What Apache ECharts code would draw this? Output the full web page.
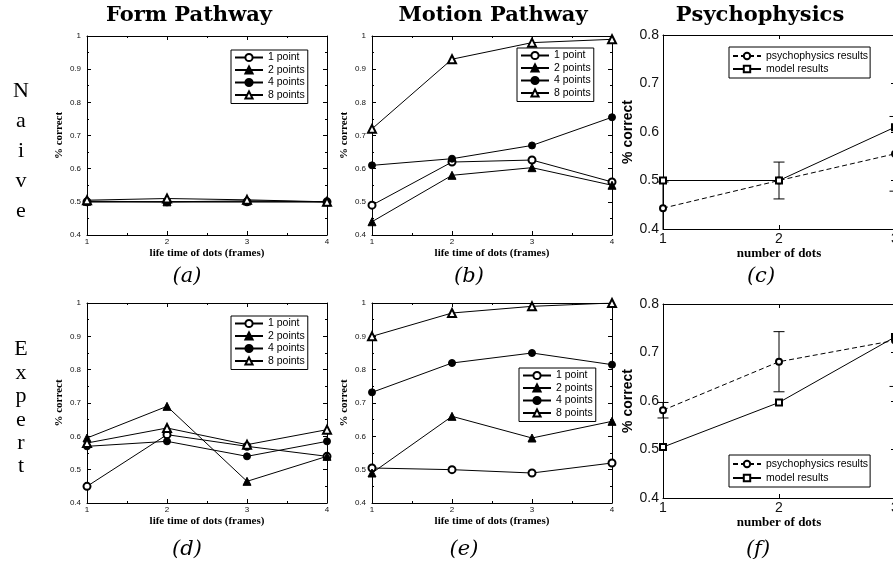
<!DOCTYPE html>
<html><head><meta charset="utf-8">
<script src="https://cdn.jsdelivr.net/npm/echarts@6/dist/echarts.min.js"></script>
<style>html,body{margin:0;padding:0;background:#fff}#c{width:893px;height:567px}</style>
</head><body><div id="c"></div><script>
// ---------- data ----------
const lifetimes = [1, 2, 3, 4];
const pointNames = ['1 point', '2 points', '4 points', '8 points'];
const yTicksPath = [0.4, 0.5, 0.6, 0.7, 0.8, 0.9, 1];

const formNaive1 = [0.500, 0.500, 0.500, 0.500];
const formNaive2 = [0.502, 0.500, 0.503, 0.500];
const formNaive4 = [0.500, 0.500, 0.500, 0.500];
const formNaive8 = [0.505, 0.510, 0.506, 0.500];

const motionNaive1 = [0.490, 0.620, 0.626, 0.560];
const motionNaive2 = [0.440, 0.580, 0.603, 0.550];
const motionNaive4 = [0.610, 0.630, 0.670, 0.755];
const motionNaive8 = [0.720, 0.930, 0.980, 0.990];

const formExpert1 = [0.450, 0.605, 0.570, 0.540];
const formExpert2 = [0.595, 0.690, 0.465, 0.540];
const formExpert4 = [0.570, 0.585, 0.540, 0.585];
const formExpert8 = [0.580, 0.625, 0.575, 0.620];

const motionExpert1 = [0.505, 0.500, 0.490, 0.520];
const motionExpert2 = [0.490, 0.660, 0.595, 0.645];
const motionExpert4 = [0.732, 0.820, 0.850, 0.815];
const motionExpert8 = [0.900, 0.970, 0.990, 1.000];

const dotCounts = [1, 2, 3];
const psychNames = ['psychophysics results', 'model results'];
const psychNaive = [0.443, 0.500, 0.555];
const psychNaiveErr = [0.054, 0.038, 0.077];
const modelNaive = [0.500, 0.500, 0.610];
const psychExpert = [0.581, 0.681, 0.725];
const psychExpertErr = [0.016, 0.062, 0.095];
const modelExpert = [0.505, 0.597, 0.732];

// ---------- build ----------
const chart = echarts.init(document.getElementById('c'));
const grids = [], xAxes = [], yAxes = [], series = [], legends = [];
const BLACK = '#000', TXT = '#111';
const pointSymbols = ['emptyCircle', 'triangle', 'circle', 'emptyTriangle'];
const pointSizes = [7, 8, 7, 8];

function axisBase(gi) {
  return {
    gridIndex: gi, type: 'value', splitLine: { show: false },
    axisLine: { onZero: false, lineStyle: { color: BLACK, width: 1 } },
    axisTick: { inside: true, length: 4, lineStyle: { color: BLACK } },
    silent: true
  };
}

function addPathPanel(rect, sets, legendPos) {
  const gi = grids.length;
  grids.push(Object.assign({ containLabel: false, outerBoundsMode: 'none' }, rect));
  const xi = xAxes.length, yi = yAxes.length;
  const minor = { show: true, splitNumber: 2, length: 2, lineStyle: { color: BLACK } };
  xAxes.push(Object.assign(axisBase(gi), {
    position: 'bottom', min: 1, max: 4, interval: 1, minorTick: minor,
    axisLabel: { fontSize: 8, color: TXT, margin: 3, fontFamily: 'Liberation Sans' },
    name: 'life time of dots (frames)', nameLocation: 'middle', nameGap: 12.5,
    nameTextStyle: { fontFamily: 'Liberation Serif', fontWeight: 'bold', fontSize: 11, color: BLACK }
  }));
  xAxes.push(Object.assign(axisBase(gi), {
    position: 'top', min: 1, max: 4, interval: 1, minorTick: minor, axisLabel: { show: false }
  }));
  yAxes.push(Object.assign(axisBase(gi), {
    position: 'left', min: yTicksPath[0], max: yTicksPath[yTicksPath.length - 1], interval: 0.1, minorTick: minor,
    axisLabel: { fontSize: 8, color: TXT, margin: 6, fontFamily: 'Liberation Sans' },
    name: '% correct', nameLocation: 'middle', nameGap: 22, nameRotate: 90,
    nameTextStyle: { fontFamily: 'Liberation Serif', fontWeight: 'bold', fontSize: 11, color: BLACK }
  }));
  yAxes.push(Object.assign(axisBase(gi), {
    position: 'right', min: yTicksPath[0], max: yTicksPath[yTicksPath.length - 1], interval: 0.1, minorTick: minor,
    axisLabel: { show: false }
  }));
  sets.forEach((vals, k) => {
    series.push({
      type: 'line', name: pointNames[k], xAxisIndex: xi, yAxisIndex: yi,
      data: lifetimes.map((x, i) => [x, vals[i]]),
      symbol: pointSymbols[k], symbolSize: pointSizes[k],
      lineStyle: { color: BLACK, width: 1 },
      itemStyle: { color: BLACK, borderColor: BLACK, borderWidth: 1 },
      silent: true, animation: false
    });
  });
  legends.push({
    left: legendPos[0], top: legendPos[1], orient: 'vertical', data: pointNames,
    borderColor: BLACK, borderWidth: 1, borderRadius: 0, backgroundColor: '#fff',
    padding: [2, 3, 3, 3], itemGap: 1.5, itemWidth: 28, itemHeight: 9,
    selectedMode: false,
    textStyle: { fontSize: 10.5, lineHeight: 11, color: BLACK, fontFamily: 'Liberation Sans' }
  });
}

function errRender(yMin, yMax) {
  return function (params, api) {
    const x = api.value(0), c = api.value(1), e = api.value(2);
    const lo = c - e, hi = c + e;
    const p1 = api.coord([x, Math.max(lo, yMin)]);
    const p2 = api.coord([x, Math.min(hi, yMax)]);
    const w = 5.5;
    const st = { stroke: BLACK, lineWidth: 1 };
    const children = [{ type: 'line', shape: { x1: p1[0], y1: p1[1], x2: p2[0], y2: p2[1] }, style: st }];
    if (lo >= yMin) children.push({ type: 'line', shape: { x1: p1[0] - w, y1: p1[1], x2: p1[0] + w, y2: p1[1] }, style: st });
    if (hi <= yMax) children.push({ type: 'line', shape: { x1: p2[0] - w, y1: p2[1], x2: p2[0] + w, y2: p2[1] }, style: st });
    return { type: 'group', children: children };
  };
}

function addPsychPanel(rect, psych, err, model, legendPos, legendGap) {
  const gi = grids.length;
  grids.push(Object.assign({ containLabel: false, outerBoundsMode: 'none' }, rect));
  const xi = xAxes.length, yi = yAxes.length;
  const yMin = 0.4, yMax = 0.8;
  xAxes.push(Object.assign(axisBase(gi), {
    position: 'bottom', min: 1, max: 3, interval: 1,
    axisLabel: { fontSize: 14, color: TXT, margin: 3, fontFamily: 'Liberation Sans' },
    name: 'number of dots', nameLocation: 'middle', nameGap: 16.5,
    nameTextStyle: { fontFamily: 'Liberation Serif', fontWeight: 'bold', fontSize: 13, color: BLACK }
  }));
  xAxes.push(Object.assign(axisBase(gi), { position: 'top', min: 1, max: 3, interval: 1, axisLabel: { show: false } }));
  yAxes.push(Object.assign(axisBase(gi), {
    position: 'left', min: yMin, max: yMax, interval: 0.1, axisTick: { show: false },
    axisLabel: { fontSize: 14, color: TXT, margin: 4, fontFamily: 'Liberation Sans' },
    name: '% correct', nameLocation: 'middle', nameGap: 26, nameRotate: 90,
    nameTextStyle: { fontFamily: 'Liberation Sans', fontWeight: 'bold', fontSize: 14, color: BLACK }
  }));
  yAxes.push(Object.assign(axisBase(gi), { position: 'right', min: yMin, max: yMax, interval: 0.1, axisLabel: { show: false } }));
  series.push({
    type: 'line', name: psychNames[0], xAxisIndex: xi, yAxisIndex: yi,
    data: dotCounts.map((x, i) => [x, psych[i]]),
    symbol: 'emptyCircle', symbolSize: 6,
    lineStyle: { color: BLACK, width: 1, type: [5, 3] },
    itemStyle: { color: BLACK, borderColor: BLACK, borderWidth: 1 }, silent: true, z: 3
  });
  series.push({
    type: 'line', name: psychNames[1], xAxisIndex: xi, yAxisIndex: yi,
    data: dotCounts.map((x, i) => [x, model[i]]),
    symbol: 'emptyRect', symbolSize: 6,
    lineStyle: { color: BLACK, width: 1 },
    itemStyle: { color: BLACK, borderColor: BLACK, borderWidth: 1 }, silent: true, z: 3
  });
  series.push({
    type: 'custom', name: 'error', xAxisIndex: xi, yAxisIndex: yi,
    data: dotCounts.map((x, i) => [x, psych[i], err[i]]),
    encode: { x: 0, y: 1 }, renderItem: errRender(yMin, yMax), silent: true, z: 2
  });
  legends.push({
    left: legendPos[0], top: legendPos[1], orient: 'vertical', data: psychNames,
    borderColor: BLACK, borderWidth: 1, borderRadius: 0, backgroundColor: '#fff',
    padding: [3, 2, 3, 3], itemGap: legendGap, itemWidth: 28, itemHeight: 8,
    selectedMode: false,
    textStyle: { fontSize: 10.5, lineHeight: 12, color: BLACK, fontFamily: 'Liberation Sans' }
  });
}

addPathPanel({ left: 87, top: 36, width: 240, height: 199 }, [formNaive1, formNaive2, formNaive4, formNaive8], [231, 50]);
addPathPanel({ left: 372, top: 36, width: 240, height: 199 }, [motionNaive1, motionNaive2, motionNaive4, motionNaive8], [517, 48]);
addPsychPanel({ left: 663, top: 35, width: 232, height: 194 }, psychNaive, psychNaiveErr, modelNaive, [729, 47], 1);
addPathPanel({ left: 87, top: 303, width: 240, height: 200 }, [formExpert1, formExpert2, formExpert4, formExpert8], [231, 316]);
addPathPanel({ left: 372, top: 303, width: 240, height: 200 }, [motionExpert1, motionExpert2, motionExpert4, motionExpert8], [519, 368]);
addPsychPanel({ left: 663, top: 304, width: 232, height: 194 }, psychExpert, psychExpertErr, modelExpert, [729, 455], 2);

function txt(text, x, y, font, extra) {
  return { type: 'text', x: x, y: y, z: 100, silent: true,
    style: Object.assign({ text: text, font: font, fill: BLACK, align: 'center', verticalAlign: 'middle' }, extra || {}) };
}
const colFont = 'bold 21px "DejaVu Serif"';
const rowFont = '22px "Liberation Serif"';
const lblFont = 'italic 21px "DejaVu Serif"';
const graphics = [
  txt('Form Pathway', 189, 16, colFont),
  txt('Motion Pathway', 493, 16, colFont),
  txt('Psychophysics', 760, 16, colFont),
  txt('N\na\ni\nv\ne', 21, 76, rowFont, { verticalAlign: 'top', lineHeight: 30 }),
  txt('E\nx\np\ne\nr\nt', 21, 338, rowFont, { verticalAlign: 'top', lineHeight: 23.4 }),
  txt('(a)', 187, 277, lblFont), txt('(b)', 469, 277, lblFont), txt('(c)', 761, 277, lblFont),
  txt('(d)', 187, 550, lblFont), txt('(e)', 464, 550, lblFont), txt('(f)', 758, 550, lblFont)
];

chart.setOption({
  animation: false,
  backgroundColor: '#fff',
  grid: grids, xAxis: xAxes, yAxis: yAxes, series: series, legend: legends,
  graphic: graphics
});
</script></body></html>
